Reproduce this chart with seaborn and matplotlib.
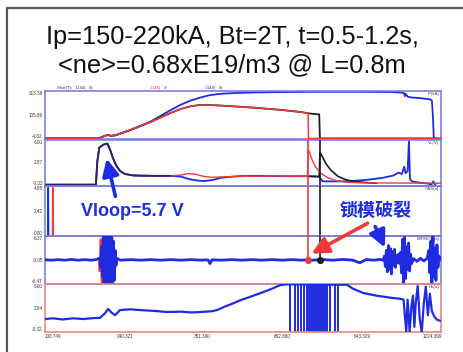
import matplotlib
matplotlib.use("Agg")
import matplotlib.pyplot as plt
from matplotlib.lines import Line2D
import seaborn as sns

# ---------------- data (time axis in ms) ----------------
title_1 = "Ip=150-220kA, Bt=2T, t=0.5-1.2s,"
title_2 = "<ne>=0.68xE19/m3 @ L=0.8m"

x_tick_pos = [100.7, 314.2, 542.5, 779.7, 1016.9, 1224.4]
x_tick_lab = ["100.749", "240.321", "381.390", "662.860", "943.329", "1224.399"]

panel_names = ["IP(kA)", "VL(V)", "GAS(a)", "MIRNOV(a)", "Ha(a)"]
panel_ylim = [(-4.62, 213.38), (-0.33, 6.00), (0.00, 4.85), (-6.47, 6.37), (-3.32, 9.00)]
panel_ymid = [105.86, 2.87, 2.42, -0.05, 2.84]

# plasma current, shot 1 (red) / shot 2 (black)
ip_t = [77, 235, 245, 255, 264, 272, 285, 300, 330, 360, 390, 420, 450, 480, 510, 537,
        570, 620, 700, 780, 840, 857]
ip_v = [0, 0, 6, 12, 16, 12, 14, 22, 38, 56, 74, 95, 115, 133, 145, 151,
        150, 146, 138, 128, 118, 113]
ip_red_tail_t = [858, 1251]
ip_red_tail_v = [0, 0]
ip_blk_tail_t = [870, 890, 892, 1251]
ip_blk_tail_v = [111, 108, 0, 0]
# plasma current, shot 3 (blue)
ip_blue_t = [77, 235, 245, 255, 264, 272, 285, 300, 330, 360, 390, 420, 450, 480, 510, 540,
             566, 600, 650, 700, 800, 900, 1000, 1100, 1135, 1142, 1144, 1147, 1152, 1165,
             1190, 1219, 1224, 1227, 1230]
ip_blue_v = [0, 0, 6, 12, 16, 12, 14, 22, 38, 56, 76, 102, 128, 152, 171, 185,
             195, 201, 205, 207, 209, 210, 210, 209, 206, 203, 190, 200, 188, 184,
             181, 176, 170, 100, -10]

# loop voltage
vl_t = [77, 228, 232, 238, 250, 262, 270, 280, 290, 300, 314, 340, 400, 450]
vl_v = [-0.15, -0.15, 3.0, 4.9, 5.3, 5.45, 4.6, 3.3, 2.3, 1.7, 1.3, 1.1, 1.05, 1.05]
vl_red_t = [450, 480, 500, 520, 545, 570, 600, 650, 700, 760, 820, 855, 858, 863, 870,
            880, 895, 915, 940, 970, 1010, 1251]
vl_red_v = [1.05, 1.15, 1.35, 1.3, 1.0, 0.85, 0.9, 1.0, 1.0, 1.05, 1.0, 1.0, 4.6, 4.0, 3.1,
            2.2, 1.4, 0.8, 0.4, 0.2, 0.1, 0.05]
vl_blk_t = [855, 890, 892, 900, 910, 925, 945, 970, 1000, 1040, 1060]
vl_blk_v = [1.0, 0.95, 4.3, 3.6, 2.7, 1.8, 1.0, 0.5, 0.25, 0.1, 0.05]
vl_blue_t = [450, 480, 505, 530, 550, 575, 600, 650, 700, 800, 855, 890, 900, 966, 1000,
             1040, 1080, 1110, 1125, 1135, 1142, 1146, 1152, 1156, 1159, 1165, 1190, 1215,
             1221, 1228, 1236]
vl_blue_v = [1.05, 0.95, 0.6, 0.4, 0.35, 0.5, 0.8, 1.0, 1.05, 1.0, 1.0, 0.95, 0.3, 0.3, 0.4,
             0.55, 0.8, 1.1, 1.5, 1.3, 2.3, 1.4, 1.7, 5.8, 0.6, 0.3, 0.1, 0.0,
             -0.3, 0.3, -0.33]

# gas puff
gas_blue_t = [77, 85, 86, 87, 88, 1251]
gas_blue_v = [0, 0, 4.7, 4.7, 0, 0]
gas_red_t = [77, 99, 100, 101, 102, 1251]
gas_red_v = [0, 0, 4.7, 4.7, 0, 0]

# mirnov signal (blue), with bursts
mir_t = [77, 95, 115, 135, 155, 175, 195, 215, 230, 240,
         242.5, 245, 247.5, 250, 252.5, 255, 257.5, 260, 262.5, 265, 267.5, 270, 272.5,
         275, 277.5, 280, 282.5, 285, 287.5, 290,
         300, 330, 360, 390, 420, 450, 480, 510, 540, 560, 566, 572, 600, 630, 660, 690,
         720, 750, 780, 810, 840, 855,
         870, 900, 930, 960, 990, 1010, 1030, 1050, 1070, 1080,
         1083, 1086, 1089, 1092, 1095, 1098, 1101, 1104, 1107, 1110, 1113, 1116, 1119,
         1122, 1125, 1128,
         1131, 1134, 1137, 1140, 1143, 1146, 1149, 1152, 1155, 1158, 1161, 1164,
         1170, 1180, 1190, 1200, 1210,
         1215, 1218, 1221, 1224, 1227, 1230, 1233, 1236, 1239, 1242, 1245, 1251]
mir_v = [0.0, -0.1, 0.05, -0.1, 0.1, -0.1, 0.05, -0.1, 0.1, 0.5,
         -2.0, 3.5, -4.5, 6.2, -6.4, 6.3, -6.4, 6.3, -6.4, 6.2, -6.4, 6.3, -6.4,
         6.0, -6.4, 5.0, -5.5, 2.5, -1.5, 0.4,
         -0.1, 0.05, -0.1, 0.05, -0.1, 0.05, -0.1, 0.05, -0.1, 0.0, -1.0, 0.0, -0.1, 0.05,
         -0.1, 0.05, -0.1, 0.05, -0.1, 0.05, -0.1, 0.0,
         -0.1, 0.05, -0.1, 0.1, -0.1, -0.8, 0.1, -0.1, 0.1, -0.1,
         1.0, -1.8, 2.5, -3.2, 3.8, -2.5, 3.0, -3.8, 2.2, -1.5, 2.8, -2.0, 1.2,
         -0.8, 1.5, -1.0,
         2.0, -3.5, 5.5, -6.4, 6.0, -5.0, 3.5, -2.5, 4.5, -3.0, 1.5, -1.0,
         0.3, -0.4, 0.4, -0.3, 0.4,
         2.5, -3.5, 5.0, -6.4, 6.3, -4.5, 3.0, -5.5, 4.0, -2.0, 1.0, 0.0]
mir_red_t = [236, 239, 242, 245, 248, 251, 254, 257, 260, 263, 266, 269, 272, 275, 278,
             281, 284, 287, 290]
mir_red_v = [0.5, -3.0, 5.5, -6.4, 6.3, -6.4, 6.3, -6.4, 6.3, -6.4, 6.3, -6.0, 5.0, -4.0,
             3.0, -2.0, 1.0, -0.5, 0.2]

# disruption cursors (red shot, black shot)
cursor_t = [857, 892]
cursor_c = ["#f03a3a", "#1c1c1c"]

# H-alpha
ha_t = [77, 100, 130, 160, 190, 220, 240, 255, 264, 275, 285, 299, 330, 359, 400, 439,
        480, 510, 537, 570, 587, 610, 634, 655, 685, 720, 750, 774, 790, 803, 972, 990,
        1020, 1060, 1100, 1130, 1140, 1148, 1152, 1158, 1163, 1168, 1172, 1176, 1182,
        1188, 1194, 1200, 1206, 1212, 1218, 1224, 1232, 1240, 1251]
ha_v = [0.0, 0.2, -0.1, 0.2, 0.0, 0.25, 0.3, 1.5, 2.6, 1.6, 1.0, 2.3, 2.5, 2.3, 2.1, 1.8,
        1.9, 1.7, 1.8, 2.0, 2.3, 3.2, 4.0, 4.8, 5.7, 6.8, 7.8, 8.7, 8.9, 8.9, 8.8, 7.8,
        6.7, 6.0, 5.5, 5.2, 5.0, -3.3, 5.0, -3.3, 3.0, 6.0, -2.0, 4.0, 8.5,
        0.0, -3.3, 4.0, 8.3, 1.0, 6.5, 2.0, 0.5, -0.2, -0.5]
ha_drop_t = [803, 818, 827, 836, 845, 854, 860, 866, 872, 878, 884, 890, 896, 902, 908,
             914, 922, 937, 946]

# ---------------- style ----------------
BLUE = "#1f2be0"
RED = "#f03a3a"
BLACK = "#1c1c1c"
SPINE_BLUE = "#7d80dc"
SPINE_RED = "#e98585"

sns.set_style("white")
plt.rcParams["font.family"] = ["Liberation Sans", "DejaVu Sans"]

W, H = 463, 352
fig = plt.figure(figsize=(W / 100, H / 100), dpi=100)
fig.patch.set_facecolor("white")

# slide frame
fig.add_artist(Line2D([7 / W, 7 / W], [0, 1 - 8 / H], color="#555555", lw=1.6))
fig.add_artist(Line2D([7 / W, 1], [1 - 8 / H, 1 - 8 / H], color="#555555", lw=1.6))

fig.text(232 / W, 1 - 37 / H, title_1, ha="center", va="center", fontsize=18.3, color="#111111")
fig.text(232 / W, 1 - 65 / H, title_2, ha="center", va="center", fontsize=18.3, color="#111111")

bounds = [(91, 139.5), (139.5, 186), (186, 236), (236, 284), (284, 332)]
x0, x1 = 45, 441
axes = []
for i, (y0, y1) in enumerate(bounds):
    ax = fig.add_axes([x0 / W, 1 - y1 / H, (x1 - x0) / W, (y1 - y0) / H])
    ax.patch.set_alpha(0)
    sc = SPINE_RED if i == 4 else SPINE_BLUE
    for s in ax.spines.values():
        s.set_color(sc)
        s.set_linewidth(1.2)
        s.set_visible(True)
    lo, hi = panel_ylim[i]
    ax.set_xlim(77, 1251)
    ax.set_ylim(lo, hi)
    ax.set_xticks(x_tick_pos)
    ax.set_yticks([lo, panel_ymid[i], hi])
    ax.set_yticklabels(["%.2f" % lo, "%.2f" % panel_ymid[i], "%.2f" % hi])
    labs = ax.get_yticklabels()
    labs[0].set_va("bottom")
    labs[2].set_va("top")
    ax.tick_params(axis="both", direction="in", length=2, width=0.8, color=sc,
                   labelsize=3.3, pad=1.5, labelcolor="#333333")
    if i < 4:
        ax.set_xticklabels([])
    else:
        ax.set_xticklabels(x_tick_lab)
    ax.text(0.995, 0.97, panel_names[i], transform=ax.transAxes, ha="right", va="top",
            fontsize=3.2, color="#444444")
    axes.append(ax)

ax1, ax2, ax3, ax4, ax5 = axes


def trace(ax, t, v, color, lw=1.2, z=2):
    sns.lineplot(x=t, y=v, ax=ax, color=color, linewidth=lw, estimator=None,
                 sort=False, legend=False, zorder=z)
    ax.set_xlabel("")
    ax.set_ylabel("")


# panel 1: plasma current
trace(ax1, ip_blue_t, ip_blue_v, BLUE, 1.3, 2)
trace(ax1, ip_t + ip_blk_tail_t, ip_v + ip_blk_tail_v, BLACK, 1.3, 3)
trace(ax1, ip_t + ip_red_tail_t, ip_v + ip_red_tail_v, RED, 1.1, 4)

# panel 2: loop voltage
trace(ax2, vl_t + vl_blue_t, vl_v + vl_blue_v, BLUE, 1.3, 2)
trace(ax2, vl_blk_t, vl_blk_v, BLACK, 1.2, 3)
trace(ax2, vl_t + vl_red_t, vl_v + vl_red_v, RED, 1.0, 4)
trace(ax2, vl_t, vl_v, "#26246e", 1.3, 5)

# panel 3: gas
trace(ax3, gas_blue_t, gas_blue_v, BLUE, 1.0, 2)
trace(ax3, gas_red_t, gas_red_v, RED, 1.0, 3)

# panel 4: mirnov
trace(ax4, mir_red_t, mir_red_v, RED, 1.4, 2)
trace(ax4, mir_t, mir_v, BLUE, 2.0, 3)

# cursors over panels 2-4
for t, c in zip(cursor_t, cursor_c):
    ax2.vlines(t, panel_ylim[1][0], panel_ylim[1][1], color=c, lw=1.2, zorder=6)
    ax3.vlines(t, panel_ylim[2][0], panel_ylim[2][1], color=c, lw=1.2, zorder=6)
    ax4.vlines(t, -1.2, panel_ylim[3][1], color=c, lw=1.2, zorder=6)
    sns.scatterplot(x=[t], y=[-0.05], ax=ax4, color=c, s=22, edgecolor=c, zorder=7,
                    legend=False)
ax4.set_xlabel("")
ax4.set_ylabel("")

# panel 5: H-alpha
ax5.vlines(ha_drop_t, panel_ylim[4][0], 8.8, color=BLUE, lw=1.4, zorder=2)
trace(ax5, ha_t, ha_v, BLUE, 1.6, 3)

# small header text
fig.text(57 / W, 1 - 88 / H, "Shot(T):   1144(   9)", fontsize=3, color="#333333", va="center")
fig.text(150 / W, 1 - 88 / H, "1146(   9)", fontsize=3, color=RED, va="center")
fig.text(205 / W, 1 - 88 / H, "1149(   9)", fontsize=3, color=BLUE, va="center")

# annotations
fig.text(132 / W, 1 - 211 / H, "Vloop=5.7 V", ha="center", va="center", fontsize=13,
         fontweight="bold", color=BLUE)
fig.text(376 / W, 1 - 210 / H, "锁模破裂", ha="center", va="center", fontsize=13,
         fontweight="bold", color=BLUE, family=["Noto Sans CJK SC", "DejaVu Sans"])

arrow = "-|>,head_length=0.85,head_width=0.42"
ax5.annotate("", xy=(106, H - 156), xycoords="figure pixels", xytext=(116, H - 199),
             textcoords="figure pixels", annotation_clip=False,
             arrowprops=dict(arrowstyle=arrow, color=BLUE, lw=2.6, mutation_scale=12))
ax5.annotate("", xy=(309, H - 255), xycoords="figure pixels", xytext=(370, H - 222),
             textcoords="figure pixels", annotation_clip=False,
             arrowprops=dict(arrowstyle=arrow, color=RED, lw=2.6, mutation_scale=12))
ax5.annotate("", xy=(386, H - 250), xycoords="figure pixels", xytext=(374, H - 224),
             textcoords="figure pixels", annotation_clip=False,
             arrowprops=dict(arrowstyle=arrow, color=BLUE, lw=2.6, mutation_scale=12))

fig.savefig("out.png", dpi=100)
